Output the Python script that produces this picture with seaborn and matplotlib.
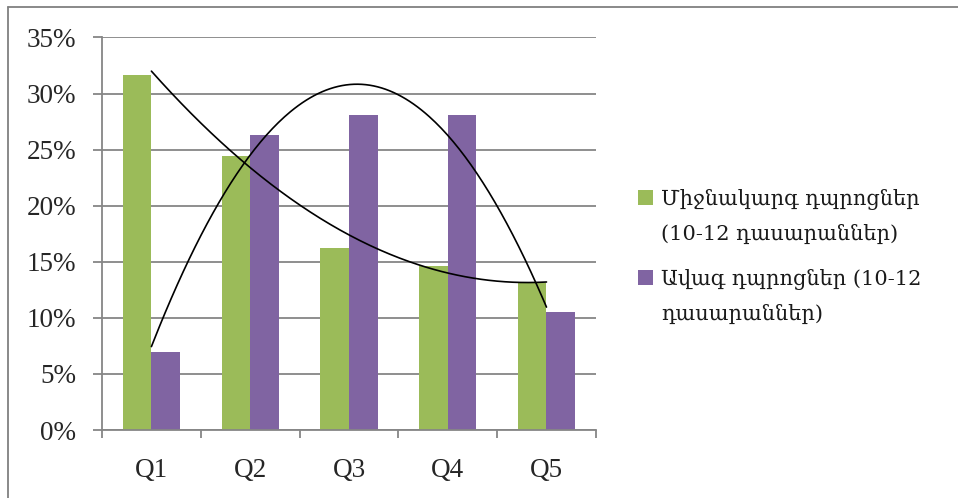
import numpy as np
import pandas as pd
import seaborn as sns
import matplotlib
matplotlib.use("Agg")
import matplotlib.pyplot as plt
from matplotlib.lines import Line2D
from matplotlib.patches import Rectangle
from matplotlib.ticker import FuncFormatter, MultipleLocator, FixedLocator

# Share of students by quintile (%)
quintiles = ["Q1", "Q2", "Q3", "Q4", "Q5"]
secondary = [31.7, 24.4, 16.2, 14.6, 13.1]
high = [7.0, 26.3, 28.1, 28.1, 10.5]
series_names = ["Միջնակարգ դպրոցներ\n(10-12 դասարաններ)",
                "Ավագ դպրոցներ (10-12\nդասարաններ)"]
colors = ["#9BBB59", "#8064A2"]

df = pd.DataFrame({
    "quintile": quintiles * 2,
    "share": secondary + high,
    "series": [series_names[0]] * 5 + [series_names[1]] * 5,
})

sns.set_theme(style="white")
serif = ["Liberation Serif", "DejaVu Serif"]
plt.rcParams["font.family"] = serif

W, H = 958, 498
fig = plt.figure(figsize=(W / 100, H / 100), dpi=100)
ax = fig.add_axes([0.1065, 0.1365, 0.5155, 0.7882])

sns.barplot(data=df, x="quintile", y="share", hue="series", palette=colors,
            width=0.58, saturation=1, linewidth=0, ax=ax, legend=False)

# second-order polynomial trendlines through the category centres
xs = np.arange(len(quintiles))
xf = np.linspace(0, len(quintiles) - 1, 200)
for vals in (secondary, high):
    coef = np.polyfit(xs, vals, 2)
    ax.plot(xf, np.polyval(coef, xf), color="black", lw=1.2, zorder=5)

ax.set_xlim(-0.5, 4.5)
ax.set_ylim(0, 35)
ax.yaxis.set_major_locator(MultipleLocator(5))
ax.yaxis.set_major_formatter(FuncFormatter(lambda v, p: f"{v:.0f}%"))
ax.set_xlabel("")
ax.set_ylabel("")

grid_c = "#868686"
ax.grid(axis="y", color=grid_c, lw=1.3)
ax.set_axisbelow(True)
for s in ("top", "right"):
    ax.spines[s].set_visible(False)
for s in ("left", "bottom"):
    ax.spines[s].set_color(grid_c)
    ax.spines[s].set_linewidth(1.3)

ax.xaxis.set_minor_locator(FixedLocator(np.arange(-0.5, 5, 1)))
ax.tick_params(axis="x", which="major", length=0, pad=20, labelsize=19.5)
ax.tick_params(axis="x", which="minor", length=6, width=1.3, color=grid_c,
               bottom=True, direction="out")
ax.tick_params(axis="y", which="major", length=6.5, width=1.3, color=grid_c,
               left=True, direction="out", pad=12, labelsize=19.5)

# legend: square key aligned with the first line of each wrapped label
entry_top = [190, 270]          # pixel rows of each key square (from top)
line_gap = 35
for name, col, top in zip(series_names, colors, entry_top):
    fig.add_artist(Rectangle((638 / W, 1 - (top + 15) / H), 15 / W, 15 / H,
                             facecolor=col, edgecolor="none",
                             transform=fig.transFigure))
    for i, line in enumerate(name.split("\n")):
        y = top + 9 + i * line_gap
        fig.text(661 / W, 1 - y / H, line, family="DejaVu Serif",
                 fontsize=15, va="center", ha="left", color="#1a1a1a")

# chart frame
fig.add_artist(Line2D([0.0084, 0.0084], [0.0, 0.986], color="#808080",
                      lw=1.3, transform=fig.transFigure))
fig.add_artist(Line2D([0.0084, 1.0], [0.986, 0.986], color="#808080",
                      lw=1.3, transform=fig.transFigure))

fig.savefig("out.png", dpi=100)
